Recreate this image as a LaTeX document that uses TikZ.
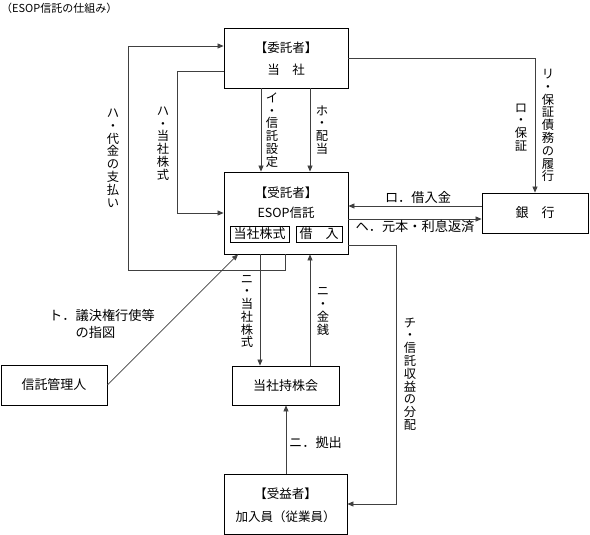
\documentclass[tikz,border=0pt]{standalone}
\usepackage{fontspec}
\newfontfamily\jp{Noto Sans CJK JP}
\usetikzlibrary{arrows.meta}
\begin{document}
\begin{tikzpicture}[x=1pt,y=-1pt,
  box/.style={draw=black, line width=0.8pt, inner sep=0pt, align=center, font=\jp\fontsize{13}{15}\selectfont},
  txt/.style={inner sep=0pt, align=center, font=\jp\fontsize{12.5}{14}\selectfont},
  vlab/.style={inner sep=0pt, align=center, font=\jp\fontsize{12.3}{12.8}\selectfont},
  hlab/.style={inner sep=0pt, align=left, font=\jp\fontsize{13.2}{17}\selectfont},
  conn/.style={draw=black!75, line width=0.7pt},
  arr/.style={conn, -{Triangle[length=6pt,width=5pt]}}]
\useasboundingbox (0,0) rectangle (590,535);

% title
\node[txt, anchor=west, font=\jp\fontsize{11}{13}\selectfont] (title) at (1,8) {（ESOP信託の仕組み）};

% boxes
\node[box, minimum width=124pt, minimum height=60pt] (itaku) at (286,58) {};
\node[txt] (itakuA) at (286,48) {【委託者】};
\node[txt] (itakuB) at (286,70) {当　社};

\node[box, minimum width=124pt, minimum height=82pt] (jutaku) at (286,213) {};
\node[txt] (jutakuA) at (286,193) {【受託者】};
\node[txt] (jutakuB) at (286,213) {ESOP信託};
\node[box, line width=0.6pt, minimum width=59pt, minimum height=16pt] (kabu) at (259.5,234) {当社株式};
\node[box, line width=0.6pt, minimum width=46pt, minimum height=16pt] (kari) at (319,234) {借　入};

\node[box, minimum width=106pt, minimum height=40pt] (ginko) at (535,213) {銀　行};
\node[box, minimum width=106pt, minimum height=40pt] (kanri) at (54,385) {信託管理人};
\node[box, minimum width=107pt, minimum height=39pt] (mochi) at (285.5,385.5) {当社持株会};

\node[box, minimum width=123pt, minimum height=60pt] (jueki) at (285.5,504) {};
\node[txt] (juekiA) at (285.5,494) {【受益者】};
\node[txt] (juekiB) at (285.5,517) {加入員（従業員）};

% connectors
\draw[arr] (jutaku.south -| 285,0) -- (285,270) -- (128,270) -- (128,46) -- (itaku.west |- 0,46);
\draw[arr] (itaku.west |- 0,71) -- (177,71) -- (177,213) -- (jutaku.west |- 0,213);
\draw[arr] (itaku.south -| 261,0) -- (jutaku.north -| 261,0);
\draw[arr] (itaku.south -| 310,0) -- (jutaku.north -| 310,0);
\draw[arr] (itaku.east |- 0,58) -- (535,58) -- (ginko.north);
\draw[arr] (ginko.west |- 0,206) -- (jutaku.east |- 0,206);
\draw[arr] (jutaku.east |- 0,219) -- (ginko.west |- 0,219);
\draw[arr] (jutaku.east |- 0,245) -- (396,245) -- (396,504) -- (jueki.east |- 0,504);
\draw[arr] (jutaku.south -| 260,0) -- (mochi.north -| 260,0);
\draw[arr] (mochi.north -| 310,0) -- (jutaku.south -| 310,0);
\draw[arr] (jueki.north -| 286,0) -- (mochi.south -| 286,0);
\draw[arr] (kanri.east) -- (jutaku.south -| 238,0);

% labels
\node[vlab] (lHa1) at (113,158) {ハ\\・\\代\\金\\の\\支\\払\\い};
\node[vlab] (lHa2) at (163,143.5) {ハ\\・\\当\\社\\株\\式};
\node[vlab] (lI) at (272,130) {イ\\・\\信\\託\\設\\定};
\node[vlab] (lHo) at (322,130) {ホ\\・\\配\\当};
\node[vlab] (lRo) at (521,127.5) {ロ\\・\\保\\証};
\node[vlab] (lRi) at (548,125.5) {リ\\・\\保\\証\\債\\務\\の\\履\\行};
\node[vlab] (lChi) at (410,374) {チ\\・\\信\\託\\収\\益\\の\\分\\配};
\node[vlab] (lNi1) at (247,311.5) {ニ\\・\\当\\社\\株\\式};
\node[vlab] (lNi2) at (323,311.5) {ニ\\・\\金\\銭};
\node[hlab] (lRo2) at (418,197) {ロ．借入金};
\node[hlab] (lHe) at (415,226.5) {ヘ．元本・利息返済};
\node[hlab, anchor=west] (lTo) at (49,323.5) {ト．議決権行使等\\　　の指図};
\node[hlab] (lNi3) at (315.5,442) {ニ．拠出};
\end{tikzpicture}
\end{document}
